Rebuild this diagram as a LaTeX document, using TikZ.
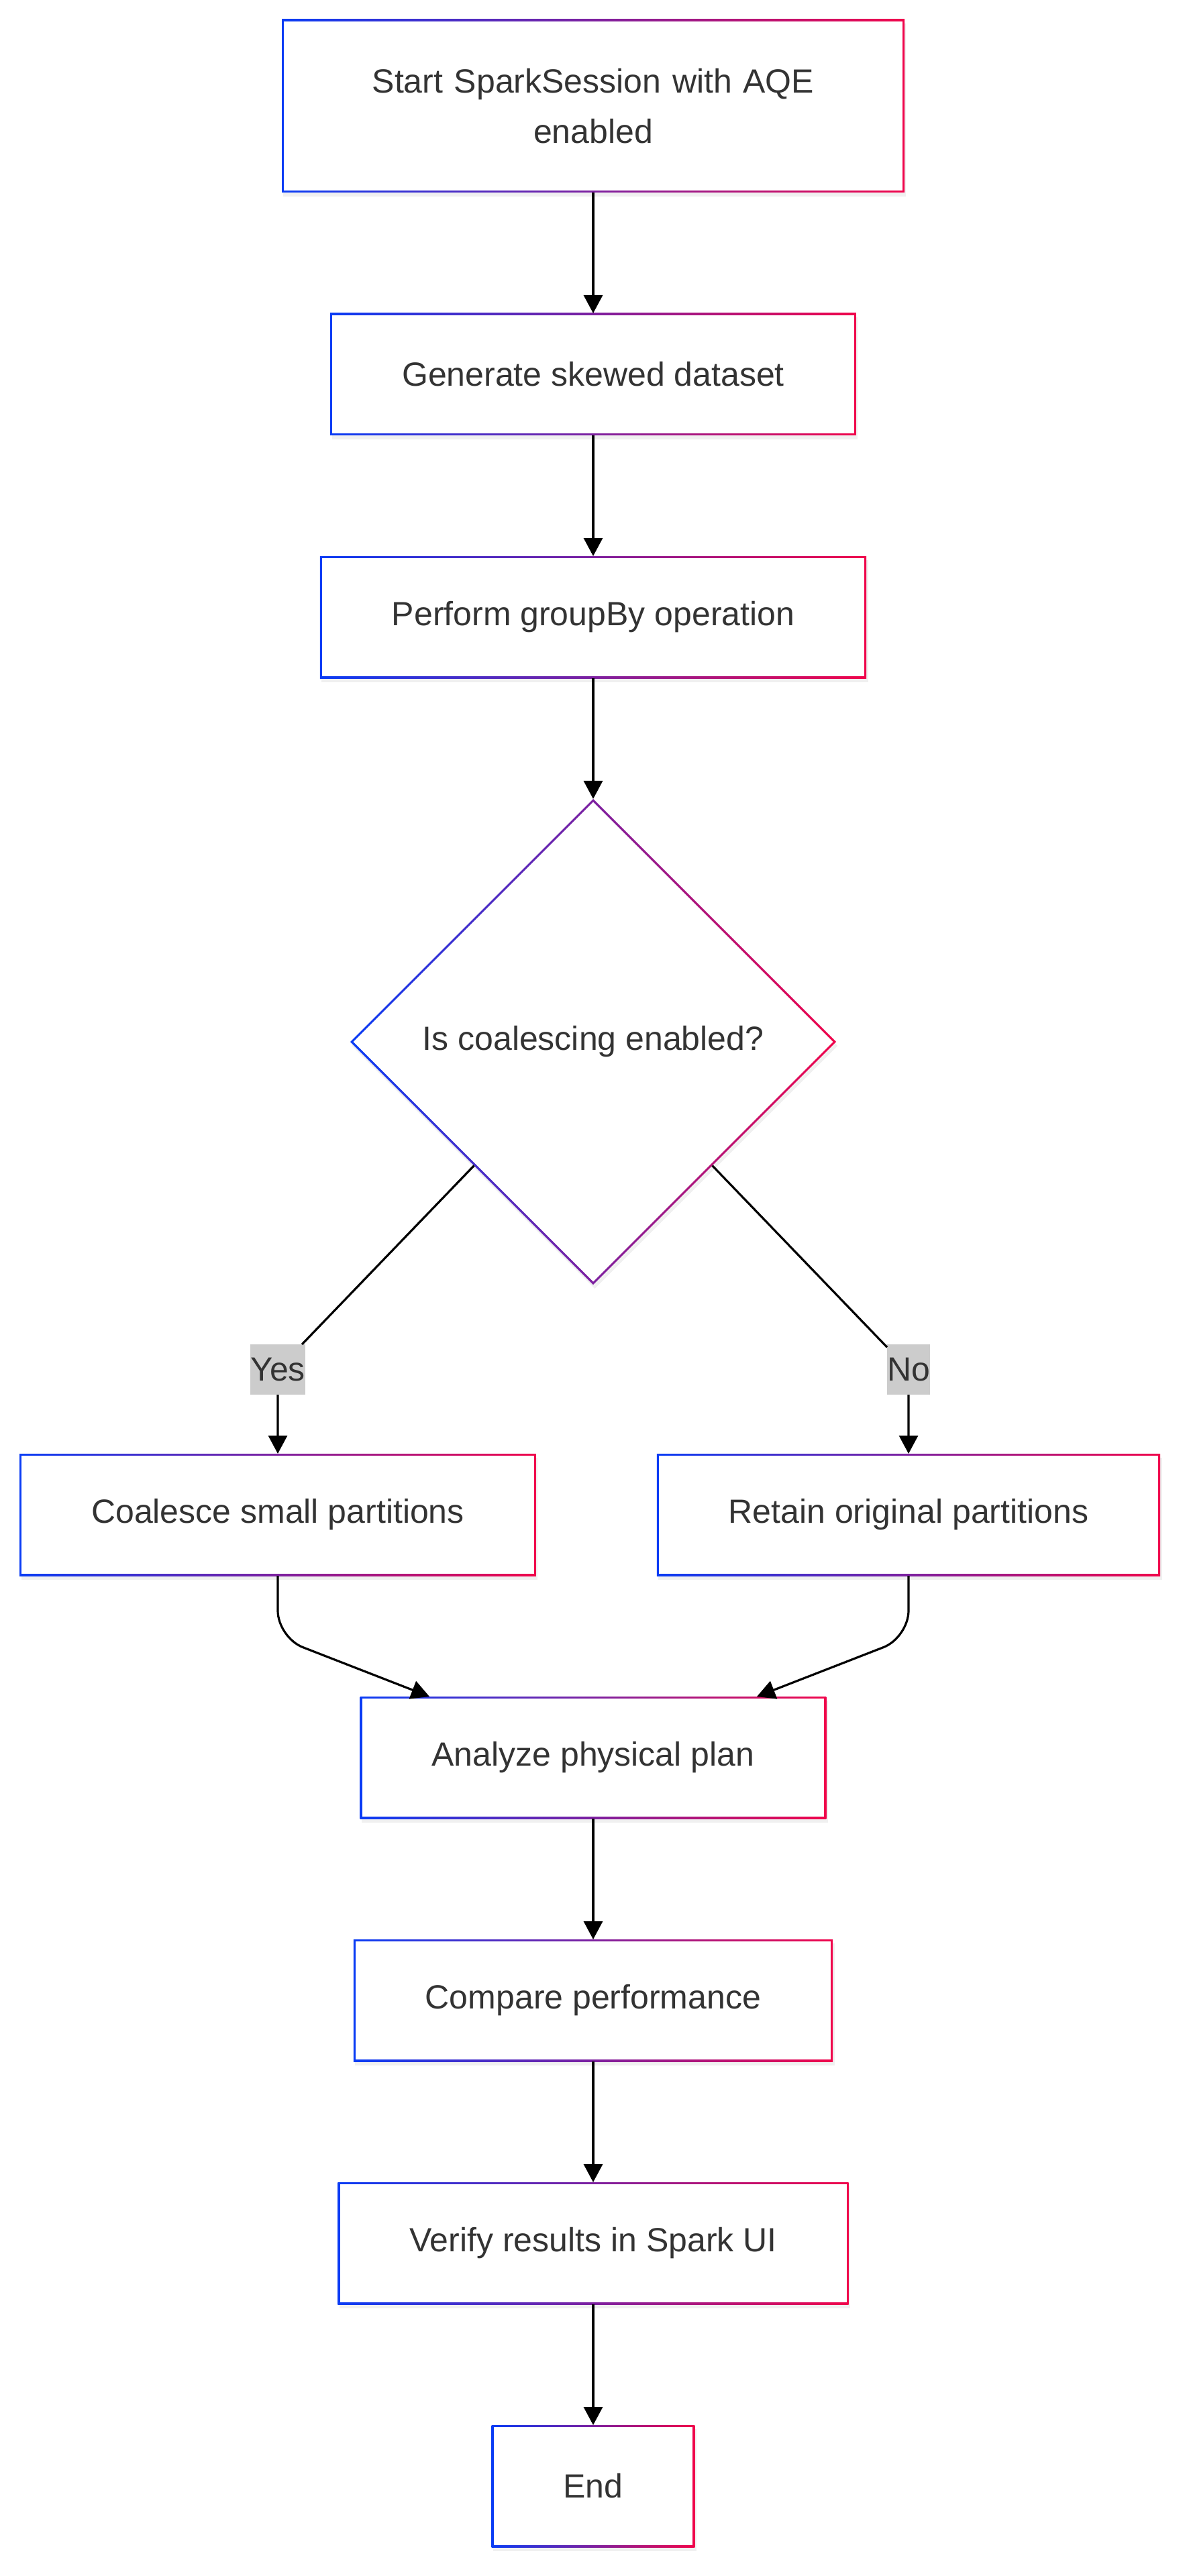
\documentclass[tikz,border=0pt]{standalone}
\usepackage{fontspec}
\setmainfont{Liberation Sans}
\usetikzlibrary{positioning,shapes.geometric,arrows.meta,shadows}
\definecolor{edgeblue}{RGB}{10,60,245}
\definecolor{edgered}{RGB}{240,5,75}
\definecolor{txtgray}{RGB}{51,51,51}
\definecolor{lblgray}{RGB}{204,204,204}

\begin{document}
\begin{tikzpicture}[
    font=\fontsize{12.5pt}{18.75pt}\selectfont, text=txtgray,
    node distance=45pt, outer sep=0pt,
    soft/.style={drop shadow={opacity=0.12, shadow xshift=0.6pt, shadow yshift=-1.5pt}},
    box/.style={rectangle, fill=white, soft, minimum height=45.5pt, inner xsep=26.75pt, inner ysep=0pt,
        path picture={
            \shade[left color=edgeblue, right color=edgered] (path picture bounding box.south west) rectangle (path picture bounding box.north east);
            \fill[white] ([shift={(0.8pt,0.8pt)}]path picture bounding box.south west) rectangle ([shift={(-0.8pt,-0.8pt)}]path picture bounding box.north east);
        }},
    choice/.style={diamond, aspect=1, fill=white, soft, minimum width=181pt, minimum height=181pt, inner sep=0pt,
        path picture={
            \shade[left color=edgeblue, right color=edgered] (path picture bounding box.south west) rectangle (path picture bounding box.north east);
            \fill[white] ([yshift=-1.13pt]path picture bounding box.north) -- ([xshift=-1.13pt]path picture bounding box.east) -- ([yshift=1.13pt]path picture bounding box.south) -- ([xshift=1.13pt]path picture bounding box.west) -- cycle;
        }},
    lbl/.style={fill=lblgray, inner xsep=0pt, inner ysep=0pt, minimum height=18.75pt},
    arr/.style={-{Triangle[length=6.75pt,width=7pt]}, line width=0.8pt, draw=black}
]
    \useasboundingbox (0,0) rectangle (442pt,-960pt);
    \node[box, text width=178.5pt, align=center, minimum height=64.5pt] (start) at (221pt,-39.5pt) {Start SparkSession with AQE\\enabled};
    \node[box, below=of start] (gen) {Generate skewed dataset};
    \node[box, below=of gen] (grp) {Perform groupBy operation};
    \node[choice, below=of grp] (chk) {Is coalescing enabled?};
    \node[box, below=63pt of chk, xshift=-117.5pt] (coal) {Coalesce small partitions};
    \node[box, below=63pt of chk, xshift=117.5pt] (keep) {Retain original partitions};
    \node[lbl, above=22pt of coal] (yes) {Yes};
    \node[lbl, above=22pt of keep] (no) {No};
    \coordinate (join) at (chk |- coal.south);
    \node[box, below=of join] (plan) {Analyze physical plan};
    \node[box, below=of plan] (cmp) {Compare performance};
    \node[box, below=of cmp] (ui) {Verify results in Spark UI};
    \node[box, below=of ui] (done) {End};

    \foreach \a/\b in {start/gen, gen/grp, grp/chk, plan/cmp, cmp/ui, ui/done}
        \draw[arr] (\a) -- (\b);
    \draw[arr] (chk) -- (yes) -- (coal);
    \draw[arr] (chk) -- (no) -- (keep);
    \draw[arr, rounded corners=10pt] (coal.south) -- ++(0,-23pt) -- ([xshift=-61pt]plan.north);
    \draw[arr, rounded corners=10pt] (keep.south) -- ++(0,-23pt) -- ([xshift=61pt]plan.north);
\end{tikzpicture}
\end{document}
